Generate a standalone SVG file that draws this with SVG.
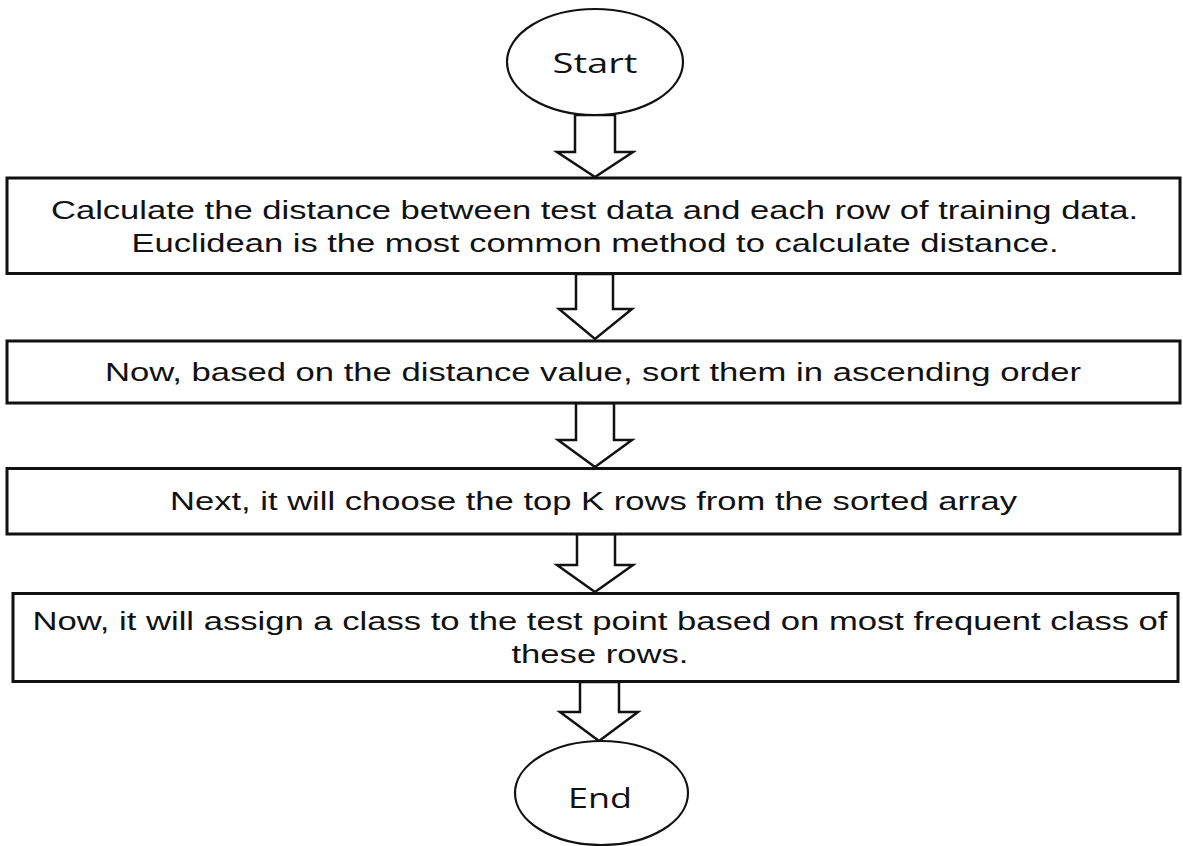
<svg xmlns="http://www.w3.org/2000/svg" width="1183" height="846" viewBox="0 0 1183 846">
  <style>
    .bg { fill: #ffffff; }
    .box { fill: #ffffff; stroke: #111111; stroke-width: 3; }
    .term { fill: #ffffff; stroke: #111111; stroke-width: 2.2; }
    .arrow { fill: #ffffff; stroke: #111111; stroke-width: 2.5; stroke-linejoin: miter; }
    .txt { font-family: "Liberation Sans", Arial, sans-serif; font-size: 25px; fill: #111111; text-anchor: middle; }
    .ttxt { font-family: "Open Sans", "DejaVu Sans", sans-serif; font-size: 28px; fill: #111111; text-anchor: middle; }
  </style>

  <rect class="bg" x="0" y="0" width="1183" height="846"/>

  <!-- block arrows between the steps -->
  <g id="connectors">
    <polygon class="arrow" points="575,115 615,115 615,152 633,152 595,177 557,152 575,152"/>
    <polygon class="arrow" points="576,274 613,274 613,309 632,309 595,339 559,309 576,309"/>
    <polygon class="arrow" points="576,403 614,403 614,440 632,440 595,467 558,440 576,440"/>
    <polygon class="arrow" points="577,534 615,534 615,565 633,565 595,592 557,565 577,565"/>
    <polygon class="arrow" points="580,682 619,682 619,712 638,712 599,741 560,712 580,712"/>
  </g>

  <g id="start">
    <ellipse class="term" cx="595" cy="62" rx="88" ry="53"/>
    <text class="ttxt" x="595" y="73" textLength="85" lengthAdjust="spacingAndGlyphs">Start</text>
  </g>

  <g id="step-distance">
    <rect class="box" x="7" y="178" width="1173" height="95.5"/>
    <text class="txt" x="594.5" y="218.5" textLength="1087" lengthAdjust="spacingAndGlyphs">Calculate the distance between test data and each row of training data.</text>
    <text class="txt" x="595" y="251.5" textLength="927" lengthAdjust="spacingAndGlyphs">Euclidean is the most common method to calculate distance.</text>
  </g>

  <g id="step-sort">
    <rect class="box" x="7" y="341" width="1173" height="62"/>
    <text class="txt" x="593" y="381" textLength="976" lengthAdjust="spacingAndGlyphs">Now, based on the distance value, sort them in ascending order</text>
  </g>

  <g id="step-topk">
    <rect class="box" x="7" y="468.5" width="1173" height="65.5"/>
    <text class="txt" x="593.5" y="510" textLength="847" lengthAdjust="spacingAndGlyphs">Next, it will choose the top K rows from the sorted array</text>
  </g>

  <g id="step-assign">
    <rect class="box" x="13" y="593.5" width="1165" height="88"/>
    <text class="txt" x="600" y="630" textLength="1135" lengthAdjust="spacingAndGlyphs">Now, it will assign a class to the test point based on most frequent class of</text>
    <text class="txt" x="600" y="663" textLength="177" lengthAdjust="spacingAndGlyphs">these rows.</text>
  </g>

  <g id="end">
    <ellipse class="term" cx="601.5" cy="793" rx="86.5" ry="52"/>
    <text class="ttxt" x="600" y="808" font-size="29" textLength="64" lengthAdjust="spacingAndGlyphs">End</text>
  </g>
</svg>
